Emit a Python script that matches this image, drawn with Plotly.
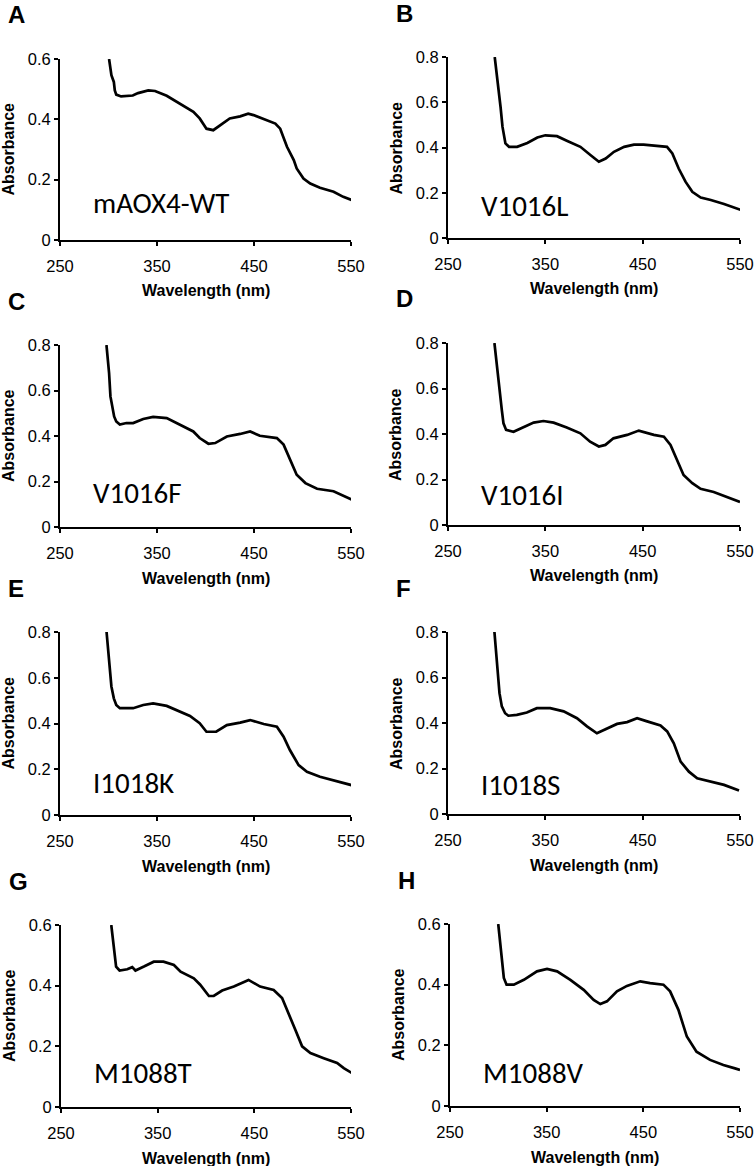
import plotly.graph_objects as go

# ── Data ──────────────────────────────────────────────────────────────────────

panel_letters = ["A", "B", "C", "D", "E", "F", "G", "H"]
sample_names = ["mAOX4-WT", "V1016L", "V1016F", "V1016I",
                "I1018K", "I1018S", "M1088T", "M1088V"]
y_max = [0.6, 0.8, 0.8, 0.8, 0.8, 0.8, 0.6, 0.6]
x_ticks = [250, 350, 450, 550]

wl_A = [300.6, 303, 305.5, 306.5, 308, 313, 325, 330.5, 341, 348, 360, 374, 387.5, 394,
        401, 408, 415, 425, 435.7, 444, 449.5, 460, 472, 477, 484, 491, 494, 501, 508,
        518, 532, 542, 551]
abs_A = [0.6, 0.546, 0.524, 0.496, 0.482, 0.476, 0.479, 0.487, 0.496, 0.494, 0.478, 0.45,
         0.425, 0.403, 0.369, 0.364, 0.38, 0.403, 0.41, 0.419, 0.414, 0.4, 0.386, 0.369,
         0.309, 0.265, 0.237, 0.204, 0.187, 0.173, 0.16, 0.143, 0.132]

wl_B = [298, 301, 304, 306, 307.5, 309, 312.7, 321, 331.5, 341.8, 350, 362, 372.6, 386,
        396.6, 405, 412, 420.5, 431, 441, 451, 465, 475, 480.5, 487, 494, 501, 509.6,
        520, 533.6, 544, 551]
abs_B = [0.8, 0.697, 0.579, 0.491, 0.454, 0.418, 0.403, 0.403, 0.42, 0.444, 0.454, 0.45,
         0.429, 0.403, 0.366, 0.337, 0.351, 0.381, 0.403, 0.413, 0.413, 0.406, 0.403,
         0.374, 0.307, 0.249, 0.204, 0.179, 0.168, 0.15, 0.135, 0.124]

wl_C = [297.9, 300.6, 302, 305, 305.8, 308, 311.7, 318.5, 325.4, 335.8, 346, 360, 366.8,
        377, 387.4, 394, 403, 410, 422, 435.7, 446, 456, 473.6, 480.5, 487, 494, 503,
        515, 532, 542.5, 551]
abs_C = [0.8, 0.677, 0.574, 0.516, 0.486, 0.464, 0.45, 0.457, 0.457, 0.475, 0.484, 0.479,
         0.464, 0.442, 0.42, 0.391, 0.366, 0.369, 0.398, 0.409, 0.42, 0.401, 0.391, 0.362,
         0.296, 0.23, 0.193, 0.168, 0.157, 0.135, 0.12]

wl_D = [297.7, 300.8, 303.6, 305.3, 307, 309.7, 317.3, 327.6, 338, 348, 358.5, 372, 386,
        396, 405, 411.7, 420, 434, 446, 461.5, 471.8, 478.6, 485.5, 492, 501, 509.5,
        523, 537, 550]
abs_D = [0.8, 0.666, 0.549, 0.505, 0.447, 0.418, 0.41, 0.429, 0.45, 0.457, 0.45, 0.429,
         0.403, 0.366, 0.345, 0.352, 0.381, 0.396, 0.415, 0.396, 0.388, 0.352, 0.286,
         0.22, 0.184, 0.159, 0.145, 0.123, 0.101]

wl_E = [298, 300.6, 303, 305.5, 308, 311.7, 325.4, 335.8, 346, 360, 370, 384, 394, 401,
        411, 422, 435.7, 446, 460, 473.6, 480.5, 487, 496, 504.6, 518, 532, 551]
abs_E = [0.8, 0.679, 0.562, 0.51, 0.481, 0.467, 0.467, 0.481, 0.488, 0.477, 0.459, 0.433,
         0.401, 0.364, 0.364, 0.393, 0.404, 0.415, 0.398, 0.386, 0.342, 0.284, 0.218,
         0.189, 0.167, 0.152, 0.13]

wl_F = [297.7, 300, 302.9, 305.3, 308.7, 312, 320.7, 331, 341.3, 355, 368.8, 382.5,
        392.8, 403, 413.4, 423.7, 434, 444.3, 454.6, 468.3, 475.2, 482, 489, 497.5, 506,
        519.8, 533.6, 549]
abs_F = [0.8, 0.678, 0.531, 0.473, 0.443, 0.432, 0.436, 0.446, 0.465, 0.465, 0.451,
         0.421, 0.385, 0.355, 0.377, 0.396, 0.404, 0.421, 0.407, 0.389, 0.363, 0.311,
         0.23, 0.186, 0.157, 0.142, 0.128, 0.103]

wl_G = [302, 303.7, 305.8, 307, 310.6, 318.5, 323.7, 327, 335.8, 346, 356, 366.8, 373.7,
        387.4, 394, 403, 408, 416.7, 428.8, 444, 456, 470, 478.7, 485.6, 492.5, 499.4,
        508, 521.8, 535.6, 542.5, 551]
abs_G = [0.6, 0.551, 0.507, 0.463, 0.45, 0.454, 0.461, 0.45, 0.463, 0.479, 0.479, 0.468,
         0.446, 0.424, 0.403, 0.366, 0.366, 0.384, 0.397, 0.419, 0.397, 0.386, 0.359,
         0.309, 0.254, 0.2, 0.178, 0.161, 0.145, 0.128, 0.112]

wl_H = [299.9, 302.3, 304, 305.7, 308.5, 316, 326.4, 340, 350.4, 360.8, 374.5, 388.3,
        398.6, 405.5, 412.4, 422.7, 433, 446.8, 457, 470.8, 477.7, 486.3, 495, 505, 519,
        532.8, 544.8, 550]
abs_H = [0.6, 0.515, 0.466, 0.422, 0.4, 0.4, 0.416, 0.444, 0.452, 0.444, 0.416, 0.383,
         0.35, 0.336, 0.345, 0.378, 0.396, 0.411, 0.405, 0.4, 0.378, 0.317, 0.229, 0.179,
         0.152, 0.135, 0.124, 0.119]

wavelengths = [wl_A, wl_B, wl_C, wl_D, wl_E, wl_F, wl_G, wl_H]
absorbances = [abs_A, abs_B, abs_C, abs_D, abs_E, abs_F, abs_G, abs_H]

# ── Page geometry (pixels) ────────────────────────────────────────────────────

W, H = 754, 1166
# left, right, top, bottom of every plot area
boxes = [
    (60, 351, 59, 240), (448, 740, 57, 238),
    (60, 351, 345, 527), (448, 740, 343, 525),
    (60, 351, 632, 815), (448, 740, 632, 814),
    (61, 351, 925, 1107), (450, 740, 924, 1106),
]
label_lift = [37, 32, 34, 30, 32.5, 29, 34, 33]  # sample-name centre above x axis

_ARIAL = "Liberation Sans, Arial, sans-serif"
_CALIBRI = "Carlito, Open Sans, sans-serif"


def px_x(v):
    return v / W


def px_y(v):
    return 1 - v / H


fig = go.Figure()
layout = dict(
    template="none",
    width=W, height=H,
    margin=dict(l=0, r=0, t=0, b=0, pad=0, autoexpand=False),
    paper_bgcolor="white", plot_bgcolor="white",
    showlegend=False,
    font=dict(family=_ARIAL, color="black"),
)
annotations = []

for i in range(8):
    n = "" if i == 0 else str(i + 1)
    left, right, top, bottom = boxes[i]

    fig.add_trace(go.Scatter(
        x=wavelengths[i], y=absorbances[i],
        mode="lines",
        line=dict(color="black", width=2.7),
        xaxis="x" + n, yaxis="y" + n,
        hoverinfo="skip",
    ))

    axis_common = dict(
        showline=True, linecolor="black", linewidth=2,
        ticks="outside", ticklen=4, tickwidth=2, tickcolor="black",
        showgrid=False, zeroline=False, mirror=False, automargin=False,
        tickfont=dict(family=_ARIAL, size=16.5, color="black"),
        ticklabeloverflow="allow",
        fixedrange=True,
    )
    layout["xaxis" + n] = dict(
        axis_common,
        domain=[px_x(left), px_x(right)],
        range=[250, 550], tickvals=x_ticks,
        ticklabelstandoff=6,
        anchor="y" + n,
    )
    layout["yaxis" + n] = dict(
        axis_common,
        domain=[px_y(bottom), px_y(top)],
        range=[0, y_max[i]], dtick=0.2, tick0=0,
        anchor="x" + n,
    )

    # panel letter
    annotations.append(dict(
        text=f"<b>{panel_letters[i]}</b>", showarrow=False,
        xref="paper", yref="paper",
        x=px_x(left - 53), y=px_y(top - 44),
        xanchor="left", yanchor="middle", borderpad=0,
        font=dict(family=_ARIAL, size=24, color="black"),
    ))
    # axis titles
    annotations.append(dict(
        text="<b>Absorbance</b>", showarrow=False, textangle=-90,
        xref="paper", yref="paper",
        x=px_x(left - 52), y=px_y((top + bottom) / 2),
        xanchor="center", yanchor="middle",
        font=dict(family=_ARIAL, size=16, color="black"),
    ))
    annotations.append(dict(
        text="<b>Wavelength (nm)</b>", showarrow=False,
        xref="paper", yref="paper",
        x=px_x((left + right) / 2), y=px_y(bottom + 51),
        xanchor="center", yanchor="middle",
        font=dict(family=_ARIAL, size=16, color="black"),
    ))
    # sample name
    annotations.append(dict(
        text=sample_names[i], showarrow=False,
        xref="paper", yref="paper",
        x=px_x(left + 31), y=px_y(bottom - label_lift[i]),
        xanchor="left", yanchor="middle",
        font=dict(family=_CALIBRI, size=29, color="black"),
    ))

layout["annotations"] = annotations
fig.update_layout(**layout)
# drop the browser's default 8px body margin so the figure fills the window
fig.write_html(
    "out.html",
    config={"displayModeBar": False},
    post_script="document.body.style.margin = '0px';",
)
